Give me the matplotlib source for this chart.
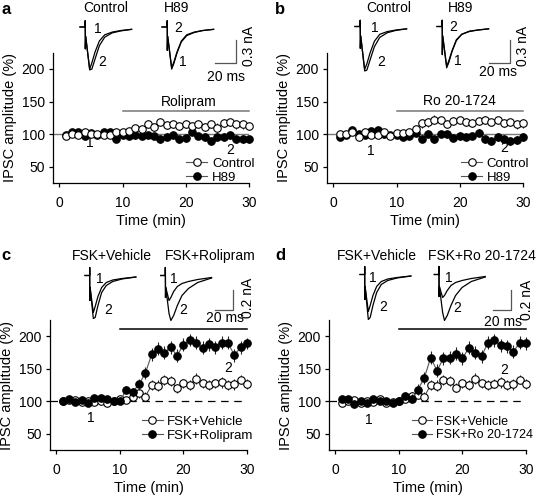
import matplotlib
matplotlib.use('Agg')
import matplotlib.pyplot as plt
from matplotlib.lines import Line2D
import numpy as np

plt.rcParams['font.family'] = ['Liberation Sans', 'DejaVu Sans']

# ---------------- data ----------------
time_min = list(range(1, 31))

a_control = [97, 100, 99, 104, 100, 100, 98, 99, 103, 103, 105, 109, 108, 115, 111, 118, 114, 115, 112, 115,
             112, 116, 111, 115, 110, 117, 118, 115, 115, 112]
a_control_err = [3, 3, 3, 3, 3, 3, 4, 4, 4, 4, 5, 5, 5, 6, 6, 6, 6, 6, 6, 6, 6, 6, 6, 6, 7, 6, 6, 7, 7, 6]
a_h89 = [99, 104, 103, 97, 101, 99, 104, 104, 93, 98, 97, 98, 97, 99, 97, 92, 96, 99, 92, 94,
         103, 97, 96, 90, 96, 96, 98, 92, 92, 92]
a_h89_err = [3, 3, 3, 3, 3, 3, 4, 4, 4, 4, 5, 5, 5, 5, 5, 6, 5, 5, 5, 6, 5, 5, 6, 6, 6, 6, 6, 6, 6, 6]

b_control = [100, 100, 104, 95, 104, 98, 98, 103, 97, 102, 101, 103, 108, 117, 118, 122, 121, 116, 120, 121,
             119, 117, 120, 122, 118, 121, 117, 118, 115, 117]
b_control_err = [3, 3, 3, 3, 3, 3, 4, 4, 4, 4, 5, 5, 5, 7, 7, 7, 6, 6, 6, 6, 6, 6, 6, 6, 6, 6, 6, 6, 7, 7]
b_h89 = [95, 98, 106, 100, 99, 105, 106, 100, 98, 99, 96, 97, 102, 93, 100, 93, 100, 100, 94, 97,
         95, 97, 102, 92, 90, 95, 93, 90, 91, 95]
b_h89_err = [3, 3, 3, 3, 3, 3, 4, 4, 4, 4, 5, 5, 5, 5, 5, 6, 5, 5, 5, 6, 5, 5, 6, 6, 6, 6, 6, 6, 6, 6]

c_vehicle = [100, 102, 102, 99, 101, 99, 101, 97, 100, 103, 102, 107, 112, 107, 125, 124, 133, 131, 120, 128,
             125, 135, 128, 125, 128, 129, 125, 126, 133, 127]
c_vehicle_err = [3, 3, 3, 3, 3, 3, 3, 3, 3, 4, 5, 6, 7, 7, 8, 8, 8, 8, 7, 7, 7, 8, 7, 7, 7, 8, 8, 8, 7, 8]
c_rolipram = [100, 103, 99, 102, 98, 105, 105, 103, 100, 100, 118, 114, 126, 143, 172, 181, 175, 183, 170, 187,
              194, 190, 182, 188, 183, 190, 190, 171, 183, 189]
c_rolipram_err = [3, 3, 3, 3, 3, 3, 3, 3, 3, 4, 6, 7, 8, 9, 10, 10, 10, 10, 10, 10, 9, 10, 10, 10, 10, 10, 10, 10, 10, 9]

d_vehicle = [98, 101, 102, 98, 100, 99, 103, 97, 99, 101, 104, 108, 110, 107, 125, 124, 133, 131, 121, 128,
             125, 135, 128, 125, 127, 129, 125, 126, 133, 127]
d_vehicle_err = [3, 3, 3, 3, 3, 3, 3, 3, 3, 4, 5, 6, 7, 7, 8, 8, 8, 8, 7, 7, 7, 8, 7, 7, 7, 8, 8, 8, 7, 8]
d_ro = [103, 103, 96, 100, 97, 104, 101, 101, 98, 100, 108, 104, 118, 136, 167, 147, 166, 167, 173, 166,
        182, 175, 169, 190, 194, 186, 185, 176, 190, 189]
d_ro_err = [3, 3, 3, 3, 3, 3, 3, 3, 3, 4, 6, 7, 8, 9, 10, 10, 10, 10, 10, 10, 10, 10, 10, 10, 10, 10, 10, 10, 10, 10]

x_ticks = [0, 10, 20, 30]
y_ticks = [50, 100, 150, 200]

# example IPSC traces (ms, nA)
trace_t_ab = [0, 4.8, 4.85, 5.0, 5.3, 9, 11, 14, 18, 23, 30, 38, 48]
a_ctrl_1 = [0, 0, 0.08, -0.28, -0.12, -0.54, -0.46, -0.32, -0.18, -0.10, -0.065, -0.045, -0.03]
a_ctrl_2 = [0, 0, 0.08, -0.28, -0.12, -0.55, -0.54, -0.41, -0.24, -0.13, -0.075, -0.05, -0.03]
a_h89_1 = [0, 0, 0.08, -0.30, -0.12, -0.54, -0.47, -0.33, -0.19, -0.11, -0.07, -0.045, -0.03]
a_h89_2 = [0, 0, 0.08, -0.30, -0.12, -0.52, -0.45, -0.32, -0.18, -0.10, -0.065, -0.045, -0.03]
b_ctrl_1 = [0, 0, 0.08, -0.28, -0.12, -0.55, -0.48, -0.34, -0.19, -0.10, -0.065, -0.045, -0.03]
b_ctrl_2 = [0, 0, 0.08, -0.28, -0.12, -0.57, -0.56, -0.43, -0.26, -0.14, -0.08, -0.05, -0.03]
b_h89_1 = [0, 0, 0.08, -0.36, -0.12, -0.53, -0.46, -0.32, -0.18, -0.10, -0.065, -0.045, -0.03]
b_h89_2 = [0, 0, 0.08, -0.36, -0.12, -0.51, -0.44, -0.31, -0.17, -0.10, -0.06, -0.045, -0.03]

trace_t_cd = [0, 5, 5.05, 5.2, 5.5, 9, 11, 14, 18, 23, 30, 40, 55]
c_veh_1 = [0, 0, 0.08, -0.25, -0.12, -0.37, -0.31, -0.21, -0.12, -0.07, -0.045, -0.03, -0.015]
c_veh_2 = [0, 0, 0.08, -0.25, -0.12, -0.43, -0.42, -0.30, -0.17, -0.10, -0.06, -0.035, -0.015]
c_rol_1 = [0, 0, 0.08, -0.22, -0.12, -0.25, -0.22, -0.16, -0.11, -0.08, -0.06, -0.04, -0.02]
c_rol_2 = [0, 0, 0.08, -0.22, -0.12, -0.38, -0.45, -0.40, -0.30, -0.20, -0.13, -0.07, -0.025]
d_veh_1 = [0, 0, 0.08, -0.25, -0.12, -0.37, -0.31, -0.21, -0.12, -0.07, -0.045, -0.03, -0.015]
d_veh_2 = [0, 0, 0.08, -0.25, -0.12, -0.45, -0.43, -0.31, -0.18, -0.10, -0.06, -0.035, -0.015]
d_ro_1 = [0, 0, 0.08, -0.22, -0.12, -0.23, -0.21, -0.16, -0.11, -0.08, -0.06, -0.04, -0.02]
d_ro_2 = [0, 0, 0.08, -0.22, -0.12, -0.38, -0.46, -0.41, -0.31, -0.21, -0.13, -0.07, -0.025]

# ---------------- figure ----------------
W, H = 538, 497
fig = plt.figure(figsize=(W / 100, H / 100), dpi=100)

FS_TICK = 10.0
FS_LAB = 10.5
FS_LEG = 9.5
FS_TXT = 10.0
GRAY = '#555555'


def ax_px(l, t, r, b):
    return fig.add_axes([l / W, 1 - b / H, (r - l) / W, (b - t) / H])


def ftext(x, y, s, **kw):
    kw.setdefault('fontsize', FS_TXT)
    kw.setdefault('ha', 'center')
    kw.setdefault('va', 'center')
    fig.text(x / W, 1 - y / H, s, **kw)


def series(ax, y, e, filled, z):
    ax.errorbar(time_min, y, yerr=e, fmt='-o', color=GRAY, lw=0.8,
                ecolor='#222222', elinewidth=0.8, capsize=0,
                ms=5.4, mew=0.8, mec='black', mfc='black' if filled else 'white',
                clip_on=False, zorder=z)


def panel(box, open_y, open_e, fill_y, fill_e, open_lab, fill_lab, style,
          bar_y, bar_text, bar_text_xy, bar_color, lab1, lab2, leg_anchor, open_on_top, leg_fs=FS_LEG):
    ax = ax_px(*box)
    ax.set_xlim(-1, 30)
    ax.set_ylim(25, 225)
    for s in ['top', 'right']:
        ax.spines[s].set_visible(False)
    ax.spines['left'].set_linewidth(0.9)
    ax.spines['bottom'].set_linewidth(0.9)
    ax.set_xticks(x_ticks)
    ax.set_yticks(y_ticks)
    ax.tick_params(direction='out', length=3, width=0.9, labelsize=FS_TICK, pad=3)
    ax.tick_params(axis='x', pad=6)
    ax.set_xlabel('Time (min)', fontsize=FS_LAB, labelpad=3)
    ax.set_ylabel('IPSC amplitude (%)', fontsize=FS_LAB, labelpad=3)
    if style == 'solid':
        ax.axhline(100, color='#777777', lw=1.0, zorder=1)
    else:
        ax.axhline(100, color='black', lw=0.9, dashes=(6, 4.5), zorder=1)
    if open_on_top:
        series(ax, fill_y, fill_e, True, 3)
        series(ax, open_y, open_e, False, 4)
    else:
        series(ax, open_y, open_e, False, 3)
        series(ax, fill_y, fill_e, True, 4)
    ax.plot([10, 30], [bar_y, bar_y], color=bar_color, lw=1.1, clip_on=False)
    if bar_text:
        ax.text(bar_text_xy[0], bar_text_xy[1], bar_text, fontsize=FS_TXT, ha='center', va='center')
    ax.text(lab1[0], lab1[1], '1', fontsize=FS_TXT, ha='center', va='center')
    ax.text(lab2[0], lab2[1], '2', fontsize=FS_TXT, ha='center', va='center')
    h1 = Line2D([], [], color=GRAY, lw=0.8, marker='o', ms=5.4, mew=0.8, mec='black', mfc='white')
    h2 = Line2D([], [], color=GRAY, lw=0.8, marker='o', ms=5.4, mew=0.8, mec='black', mfc='black')
    ax.legend([h1, h2], [open_lab, fill_lab], loc='center left', bbox_to_anchor=leg_anchor,
              frameon=False, fontsize=leg_fs, handlelength=1.6, handletextpad=0.35,
              labelspacing=0.12, borderpad=0, borderaxespad=0)
    return ax


def inset(box, y0, pxms, pxnA, starts, t_list, traces, corner, sc_ms, sc_nA):
    l, t, r, b = box
    ax = ax_px(l, t, r, b)
    ax.set_xlim(0, (r - l) / pxms)
    ax.set_ylim(-(b - y0) / pxnA, (y0 - t) / pxnA)
    ax.axis('off')
    for start, pair in zip(starts, traces):
        off = (start - l) / pxms
        for ys in pair:
            ax.plot(np.array(t_list) + off, ys, color='black', lw=0.9, clip_on=False)
    cx = (corner[0] - l) / pxms
    cy = -(corner[1] - y0) / pxnA
    ax.plot([cx - sc_ms, cx, cx], [cy, cy, cy + sc_nA], color=GRAY, lw=0.9, clip_on=False)


# Panel a
panel((53, 52.7, 249, 183), a_control, a_control_err, a_h89, a_h89_err, 'Control', 'H89', 'solid',
      136, 'Rolipram', (20.5, 149.5), '#777777', (4.8, 87), (27, 75), (0.68, 0.095), True)
# Panel b
panel((327, 52.7, 523, 183), b_control, b_control_err, b_h89, b_h89_err, 'Control', 'H89', 'solid',
      135, 'Ro 20-1724', (20, 150.5), '#777777', (6.0, 74), (27, 78), (0.684, 0.095), True)
# Panel c
panel((50, 320, 247, 450), c_vehicle, c_vehicle_err, c_rolipram, c_rolipram_err, 'FSK+Vehicle', 'FSK+Rolipram',
      'dashed', 210.7, None, None, 'black', (5.5, 74.5), (27, 151), (0.465, 0.165), False)
# Panel d
panel((329, 320, 526, 450), d_vehicle, d_vehicle_err, d_ro, d_ro_err, 'FSK+Vehicle', 'FSK+Ro 20-1724',
      'dashed', 211, None, None, 'black', (5.2, 70.6), (26.5, 148), (0.42, 0.165), False, leg_fs=9.0)

# Insets
inset((75, 14, 258, 80), 27, 1.075, 78, [80, 162], trace_t_ab,
      [(a_ctrl_1, a_ctrl_2), (a_h89_1, a_h89_2)], (236, 63), 20, 0.3)
inset((350, 14, 530, 80), 26.5, 1.075, 78, [355, 437], trace_t_ab,
      [(b_ctrl_1, b_ctrl_2), (b_h89_1, b_h89_2)], (510, 63), 20, 0.3)
inset((80, 262, 250, 325), 275.5, 0.925, 100, [85, 160.7], trace_t_cd,
      [(c_veh_1, c_veh_2), (c_rol_1, c_rol_2)], (233.3, 310), 20, 0.2)
inset((355, 262, 535, 325), 274.5, 0.925, 100, [360, 434.3], trace_t_cd,
      [(d_veh_1, d_veh_2), (d_ro_1, d_ro_2)], (511, 310), 20, 0.2)

# panel letters
for x, y, s in [(6, 9, 'a'), (280, 9, 'b'), (6, 256, 'c'), (280, 256, 'd')]:
    ftext(x, y, s, fontsize=12, fontweight='bold')

# inset titles and labels
ftext(106, 8, 'Control'); ftext(177, 8, 'H89')
ftext(98, 29, '1'); ftext(102, 62, '2'); ftext(178, 28, '2'); ftext(183, 62, '1')
ftext(249, 46, '0.3 nA', rotation=90, fontsize=FS_TICK)
ftext(226, 77, '20 ms', fontsize=FS_TICK)

ftext(389, 8, 'Control'); ftext(461, 8, 'H89')
ftext(375, 28, '1'); ftext(381, 61.7, '2'); ftext(453, 27.3, '2'); ftext(458, 61, '1')
ftext(523, 46, '0.3 nA', rotation=90, fontsize=FS_TICK)
ftext(498, 72, '20 ms', fontsize=FS_TICK)

ftext(112, 256, 'FSK+Vehicle'); ftext(210.5, 256, 'FSK+Rolipram')
ftext(100, 279.3, '1'); ftext(108.3, 310, '2'); ftext(174, 279.3, '1'); ftext(183.3, 310, '2')
ftext(248, 298, '0.2 nA', rotation=90, fontsize=FS_TICK)
ftext(225, 317.5, '20 ms', fontsize=FS_TICK)

ftext(377, 256, 'FSK+Vehicle'); ftext(482, 256, 'FSK+Ro 20-1724')
ftext(373.3, 278.3, '1'); ftext(383.3, 306.7, '2'); ftext(449.3, 278.3, '1'); ftext(456.7, 308.3, '2')
ftext(527, 300, '0.2 nA', rotation=90, fontsize=FS_TICK)
ftext(503.3, 321.5, '20 ms', fontsize=FS_TICK)

fig.savefig('out.png', dpi=100)
